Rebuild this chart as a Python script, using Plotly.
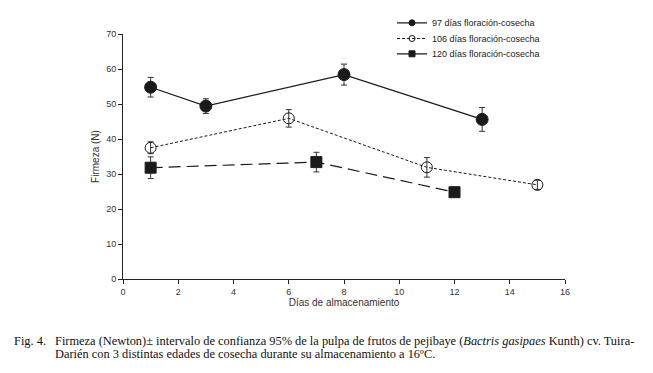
import plotly.graph_objects as go

days_97 = [1, 3, 8, 13]
firm_97 = [54.8, 49.4, 58.4, 45.6]
err_97 = [2.8, 2.1, 3.0, 3.4]

days_106 = [1, 6, 11, 15]
firm_106 = [37.5, 45.9, 31.9, 26.9]
err_106 = [1.7, 2.5, 2.8, 1.3]

days_120 = [1, 7, 12]
firm_120 = [31.8, 33.4, 24.8]
err_120 = [3.1, 2.8, 0.0]

names = ["97 días floración-cosecha", "106 días floración-cosecha", "120 días floración-cosecha"]
x_ticks = [0, 2, 4, 6, 8, 10, 12, 14, 16]
y_ticks = [0, 10, 20, 30, 40, 50, 60, 70]

caption_lines = [
    "Firmeza (Newton)± intervalo de confianza 95% de la pulpa de frutos de pejibaye (<i>Bactris gasipaes</i> Kunth) cv. Tuira-",
    "Darién con 3 distintas edades de cosecha durante su almacenamiento a 16ºC.",
]

C = "#1a1a1a"
styles = [
    dict(line=dict(color=C, width=1.2), symbol="circle", size=12, lsize=6),
    dict(line=dict(color=C, width=1, dash="3px,2px"), symbol="circle-open", size=11, lsize=6),
    dict(line=dict(color=C, width=1.2, dash="12px,6px"), symbol="square", size=11, lsize=6),
]
series = [(days_97, firm_97, err_97), (days_106, firm_106, err_106), (days_120, firm_120, err_120)]
legend_ids = ["legend", "legend2", "legend3"]

fig = go.Figure()
for (xs, ys, es), st, nm in zip(series, styles, names):
    fig.add_trace(go.Scatter(
        x=xs, y=ys, name=nm, mode="lines+markers", showlegend=False,
        line=st["line"],
        marker=dict(symbol=st["symbol"], size=st["size"], color=C, line=dict(width=1, color=C)),
        error_y=dict(type="data", array=es, color="#333", thickness=1, width=3)))
for st, nm, lg in zip(styles, names, legend_ids):
    fig.add_trace(go.Scatter(
        x=[None], y=[None], name=nm, mode="lines+markers", showlegend=True, legend=lg,
        line=st["line"],
        marker=dict(symbol=st["symbol"], size=st["lsize"], color=C, line=dict(width=1, color=C))))

W, H = 645, 365
leg_font = dict(family="Liberation Sans, Arial, sans-serif", size=9, color="#222")
def leg(ytop_px):
    return dict(xref="container", yref="container", x=384 / W, y=1 - ytop_px / H,
                xanchor="left", yanchor="top", font=leg_font,
                bgcolor="rgba(0,0,0,0)", itemwidth=30)

axis_font = dict(family="Liberation Sans, Arial, sans-serif", size=9, color="#333")
title_font = dict(family="Liberation Sans, Arial, sans-serif", size=10, color="#333")
fig.update_layout(
    width=W, height=H,
    margin=dict(l=115, r=88, t=26, b=94, autoexpand=False),
    paper_bgcolor="white", plot_bgcolor="white",
    showlegend=True,
    legend=leg(0.3), legend2=leg(16.0), legend3=leg(31.3),
    xaxis=dict(range=[0, 16], tickvals=x_ticks, showgrid=False, zeroline=False,
               showline=True, linecolor="#222", linewidth=1, ticks="outside",
               ticklen=4, tickcolor="#222", tickfont=axis_font,
               title=dict(text="Días de almacenamiento", font=title_font, standoff=2)),
    yaxis=dict(range=[0, 70], tickvals=y_ticks, showgrid=False, zeroline=False,
               showline=True, linecolor="#222", linewidth=1, ticks="outside",
               ticklen=4, tickcolor="#222", tickfont=axis_font,
               title=dict(text="Firmeza (N)", font=title_font, standoff=4)),
)

cap_font = dict(family="Liberation Serif, Times New Roman, serif", size=12.4, color="#111")
fig.add_annotation(text="Fig. 4.", xref="paper", yref="paper", x=-0.251, y=-0.2515,
                   xanchor="left", yanchor="middle", showarrow=False, font=cap_font)
for txt, yy in zip(caption_lines, [-0.2515, -0.3045]):
    fig.add_annotation(text=txt, xref="paper", yref="paper", x=-0.158, y=yy,
                       xanchor="left", yanchor="middle", align="left", showarrow=False, font=cap_font)

fig.write_html("out.html")
